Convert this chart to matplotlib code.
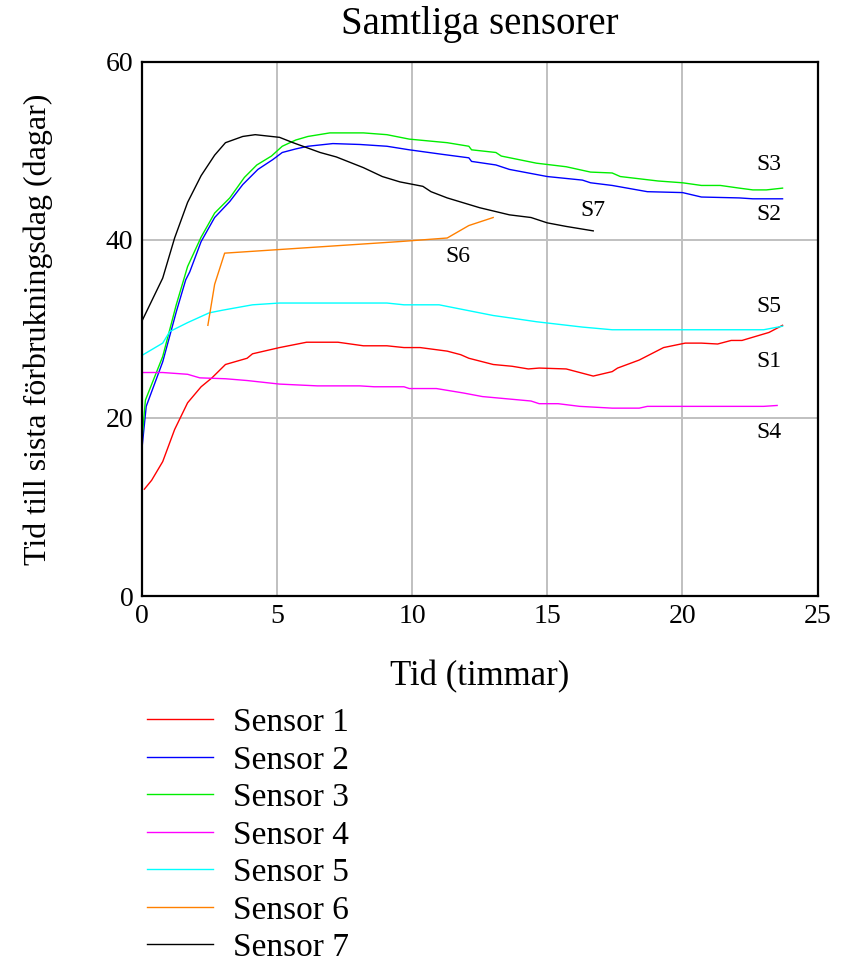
import matplotlib
matplotlib.use("Agg")
import matplotlib.pyplot as plt

plt.rcParams["font.family"] = ["Liberation Serif", "DejaVu Serif"]

# Sensor 1
s1_x = [0.1, 0.37, 0.78, 1.22, 1.7, 2.2, 2.6, 3.1, 3.9, 4.1, 5.1, 6.1, 7.26, 8.2, 9.07, 9.7,
        10.3, 11.3, 11.8, 12.1, 13.0, 13.7, 14.3, 14.7, 15.7, 16.2, 16.7, 17.4, 17.6, 18.4,
        19.3, 20.1, 20.7, 21.3, 21.8, 22.2, 23.2, 23.7]
s1_y = [12.0, 13.0, 15.1, 18.7, 21.7, 23.5, 24.5, 26.0, 26.7, 27.2, 27.9, 28.5, 28.5, 28.1,
        28.1, 27.9, 27.9, 27.5, 27.1, 26.7, 26.0, 25.8, 25.5, 25.6, 25.5, 25.1, 24.7, 25.2,
        25.6, 26.5, 27.9, 28.4, 28.4, 28.3, 28.7, 28.7, 29.6, 30.4]

# Sensor 2
s2_x = [0.0, 0.17, 0.78, 1.28, 1.63, 1.78, 2.2, 2.7, 3.26, 3.74, 4.3, 4.85, 5.2, 5.7, 6.15,
        7.07, 8.07, 9.07, 9.9, 11.1, 12.1, 12.2, 13.1, 13.6, 15.0, 16.3, 16.6, 17.4, 18.7,
        20.0, 20.7, 22.1, 22.6, 23.7]
s2_y = [16.2, 21.3, 26.3, 31.9, 35.5, 36.4, 39.8, 42.5, 44.3, 46.2, 47.9, 49.0, 49.8, 50.2,
        50.5, 50.8, 50.7, 50.5, 50.1, 49.6, 49.2, 48.8, 48.4, 47.9, 47.1, 46.7, 46.4, 46.1,
        45.4, 45.3, 44.8, 44.7, 44.6, 44.6]

# Sensor 3
s3_x = [0.0, 0.14, 0.78, 1.28, 1.7, 2.2, 2.7, 3.26, 3.8, 4.26, 4.8, 5.2, 5.7, 6.15, 6.96,
        8.2, 9.07, 9.9, 11.3, 12.1, 12.2, 13.1, 13.3, 14.6, 15.7, 16.6, 17.4, 17.7, 19.1,
        20.0, 20.7, 21.4, 22.1, 22.6, 23.1, 23.7]
s3_y = [17.1, 22.0, 26.9, 32.7, 37.0, 40.3, 43.0, 44.7, 47.0, 48.4, 49.4, 50.5, 51.2, 51.6,
        52.0, 52.0, 51.8, 51.3, 50.9, 50.5, 50.1, 49.8, 49.4, 48.6, 48.2, 47.6, 47.5, 47.1,
        46.6, 46.4, 46.1, 46.1, 45.8, 45.6, 45.6, 45.8]

# Sensor 4
s4_x = [0.0, 0.78, 1.7, 2.15, 3.1, 3.9, 5.1, 6.5, 8.07, 8.6, 9.7, 9.9, 10.9, 11.9, 12.6,
        14.4, 14.7, 15.4, 16.2, 17.4, 18.4, 18.7, 23.0, 23.5]
s4_y = [25.1, 25.1, 24.9, 24.5, 24.4, 24.2, 23.8, 23.6, 23.6, 23.5, 23.5, 23.3, 23.3, 22.8,
        22.4, 21.9, 21.6, 21.6, 21.3, 21.1, 21.1, 21.3, 21.3, 21.4]

# Sensor 5
s5_x = [0.0, 0.78, 1.04, 1.7, 2.5, 3.0, 4.1, 5.1, 9.07, 9.7, 11.0, 12.0, 13.0, 13.7, 14.6,
        16.3, 17.4, 23.0, 23.7]
s5_y = [27.0, 28.4, 29.7, 30.7, 31.8, 32.1, 32.7, 32.9, 32.9, 32.7, 32.7, 32.1, 31.5, 31.2,
        30.8, 30.2, 29.9, 29.9, 30.3]

# Sensor 6
s6_x = [2.45, 2.7, 3.07, 9.55, 11.3, 12.1, 13.0]
s6_y = [30.4, 35.0, 38.5, 39.8, 40.2, 41.6, 42.5]

# Sensor 7
s7_x = [0.0, 0.78, 1.22, 1.7, 2.2, 2.7, 3.1, 3.74, 4.2, 5.1, 5.6, 6.6, 7.2, 8.2, 8.9, 9.55,
        10.4, 10.7, 11.3, 12.5, 13.6, 14.4, 15.0, 15.7, 16.7]
s7_y = [30.8, 35.7, 40.2, 44.2, 47.2, 49.5, 50.9, 51.6, 51.8, 51.5, 50.9, 49.8, 49.3, 48.1,
        47.1, 46.5, 46.0, 45.4, 44.7, 43.6, 42.8, 42.5, 41.9, 41.5, 41.0]

series = [
    ("Sensor 1", s1_x, s1_y, "#ff0000"),
    ("Sensor 2", s2_x, s2_y, "#0000ff"),
    ("Sensor 3", s3_x, s3_y, "#00ee00"),
    ("Sensor 4", s4_x, s4_y, "#ff00ff"),
    ("Sensor 5", s5_x, s5_y, "#00ffff"),
    ("Sensor 6", s6_x, s6_y, "#ff8000"),
    ("Sensor 7", s7_x, s7_y, "#000000"),
]

tags = ["S1", "S2", "S3", "S4", "S5", "S6", "S7"]
tag_x = [23.2, 23.2, 23.2, 23.2, 23.2, 11.7, 16.7]
tag_y = [26.3, 42.8, 48.4, 18.4, 32.5, 38.1, 43.3]

fig = plt.figure(figsize=(8.43, 9.63), dpi=100)
ax = fig.add_axes([0.168, 0.381, 0.802, 0.555])

for label, xs, ys, color in series:
    ax.plot(xs, ys, color=color, lw=1.0, label=label)

for t, x, y in zip(tags, tag_x, tag_y):
    ax.text(x, y, t, fontsize=17, ha="center", va="center")

ax.set_xlim(0, 25)
ax.set_ylim(0, 60)
ax.set_xticks([0, 5, 10, 15, 20, 25])
ax.set_yticks([0, 20, 40, 60])
ax.grid(True, color="#c0c0c0", lw=1.4)
ax.set_axisbelow(True)
ax.tick_params(length=0, labelsize=20, pad=6)
for sp in ax.spines.values():
    sp.set_linewidth(1.6)

ax.set_title("Samtliga sensorer", fontsize=28, pad=20)
ax.set_xlabel("Tid (timmar)", fontsize=25, labelpad=22)
ax.set_ylabel("Tid till sista förbrukningsdag (dagar)", fontsize=23, labelpad=38)

fig.legend(loc="upper left", bbox_to_anchor=(0.158, 0.279), frameon=False,
           fontsize=24, handlelength=2.0, handletextpad=0.58, labelspacing=0.21,
           borderaxespad=0)

fig.savefig("out.png", dpi=100)
